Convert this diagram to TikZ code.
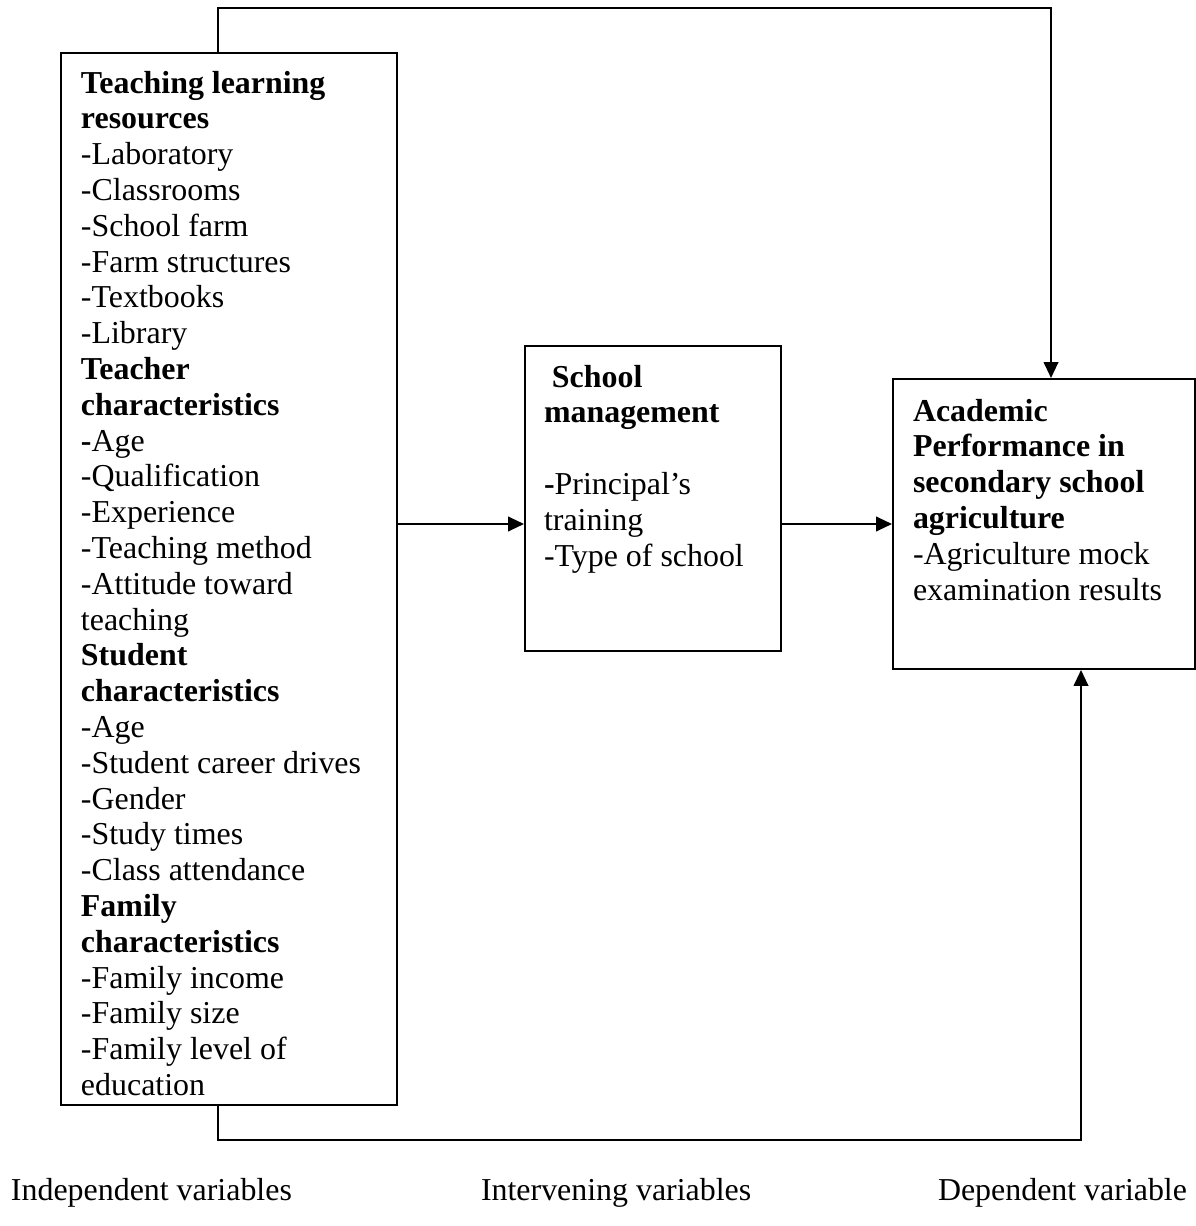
\documentclass[tikz,border=0pt]{standalone}
\usepackage{fontspec}
\setmainfont{Liberation Serif}
\usetikzlibrary{arrows.meta,positioning}
\newcommand\unitpx{0.376pt}

\tikzset{
  >={Triangle[length=6pt,width=5.5pt]},
  box/.style={draw, line width=0.75pt, anchor=north west, inner sep=0pt},
  boxtext/.style={anchor=north west, inner sep=0pt, align=left,
    font=\fontsize{12}{13.46}\selectfont},
  caption/.style={anchor=base west, inner sep=0pt,
    font=\fontsize{12}{13.46}\selectfont},
}

\begin{document}
\begin{tikzpicture}[x=\unitpx, y=-\unitpx, line width=0.75pt]
\useasboundingbox (0,0) rectangle (1196,1226);

% boxes
\node[box, minimum width=336*\unitpx, minimum height=1052*\unitpx] (indep) at (60,52) {};
\node[box, minimum width=256*\unitpx, minimum height=305*\unitpx] (mgmt) at (524,345) {};
\node[box, minimum width=302*\unitpx, minimum height=290*\unitpx] (perf) at (892,378) {};

% box texts
\node[boxtext] (indeptxt) at (80,70) {%
\textbf{Teaching learning}\\
\textbf{resources}\\
-Laboratory\\
-Classrooms\\
-School farm\\
-Farm structures\\
-Textbooks\\
-Library\\
\textbf{Teacher}\\
\textbf{characteristics}\\
\textbf{-}Age\\
-Qualification\\
-Experience\\
-Teaching method\\
-Attitude toward\\
teaching\\
\textbf{Student}\\
\textbf{characteristics}\\
-Age\\
-Student career drives\\
-Gender\\
-Study times\\
-Class attendance\\
\textbf{Family}\\
\textbf{characteristics}\\
-Family income\\
-Family size\\
-Family level of\\
education};
\node[boxtext] (mgmttxt) at (543,364) {%
\textbf{\ School}\\
\textbf{management}\\[13.46pt]
\textbf{-}Principal’s\\
training\\
-Type of school};
\node[boxtext] (perftxt) at (912,398) {%
\textbf{Academic}\\
\textbf{Performance in}\\
\textbf{secondary school}\\
\textbf{agriculture}\\
-Agriculture mock\\
examination results};

% captions
\node[caption] (capindep) at (10,1200) {Independent variables};
\node[caption] (capmgmt) at (480,1200) {Intervening variables};
\node[caption] (capperf) at (937,1200) {Dependent variable};

% rails and connector ends for the loops
\coordinate (toprail) at (0,8);
\coordinate (botrail) at (0,1140);
\coordinate (indepup) at ([xshift=158*\unitpx]indep.north west);
\coordinate (indepdown) at ([xshift=158*\unitpx]indep.south west);
\coordinate (perfin) at ([xshift=159*\unitpx]perf.north west);
\coordinate (perfup) at ([xshift=189*\unitpx]perf.south west);

% connectors
\draw [->] (indep.east |- perf.west) -- (mgmt.west |- perf.west);
\draw [->] (mgmt.east |- perf.west) -- (perf.west);
\draw [->] (indepup) |- (toprail -| perfin) -- (perfin);
\draw [->] (indepdown) |- (botrail -| perfup) -- (perfup);
\end{tikzpicture}
\end{document}
